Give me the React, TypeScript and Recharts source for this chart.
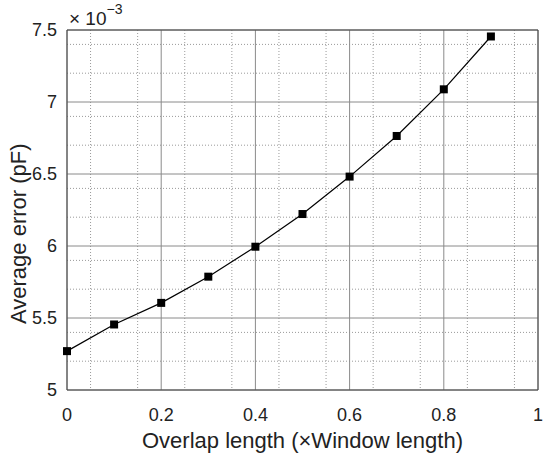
import React from 'react';
import { LineChart, Line, XAxis, YAxis, CartesianGrid, ReferenceLine } from 'recharts';

const overlap = [0, 0.1, 0.2, 0.3, 0.4, 0.5, 0.6, 0.7, 0.8, 0.9];
const avgError = [5.27, 5.455, 5.605, 5.787, 5.995, 6.222, 6.482, 6.764, 7.088, 7.455];
const xTicks = [0, 0.2, 0.4, 0.6, 0.8, 1];
const yTicks = [5, 5.5, 6, 6.5, 7, 7.5];
const xMinor = [0.05, 0.1, 0.15, 0.25, 0.3, 0.35, 0.45, 0.5, 0.55, 0.65, 0.7, 0.75, 0.85, 0.9, 0.95];
const yMinor = [5.1, 5.2, 5.3, 5.4, 5.6, 5.7, 5.8, 5.9, 6.1, 6.2, 6.3, 6.4, 6.6, 6.7, 6.8, 6.9, 7.1, 7.2, 7.3, 7.4];

const data = overlap.map((x, i) => ({ x, y: avgError[i] }));

const FONT = 'Liberation Sans, Arial, Helvetica, sans-serif';

const Square = (props: any) => {
  const { cx, cy, index } = props;
  if (cx == null || cy == null) return <g key={index} />;
  return <rect key={index} x={cx - 4} y={cy - 4} width={8} height={8} fill="#000" />;
};

export default function App() {
  return (
    <div style={{ position: 'absolute', left: 0, top: 0, width: 550, height: 459, background: '#fff' }}>
      <LineChart width={550} height={459} data={data} margin={{ top: 30, right: 12, bottom: 39, left: 17 }}>
        <CartesianGrid
          stroke="#9a9a9a"
          strokeDasharray="1 2"
          horizontalValues={yMinor}
          verticalValues={xMinor}
        />
        <CartesianGrid stroke="#8a8a8a" horizontalValues={yTicks} verticalValues={xTicks} />
        <XAxis
          dataKey="x"
          type="number"
          domain={[0, 1]}
          ticks={xTicks}
          height={30}
          axisLine={{ stroke: '#444' }}
          tickLine={false}
          tick={{ fill: '#222', fontSize: 18, fontFamily: FONT, dy: 10 }}
          tickFormatter={(v: number) => String(v)}
          label={{ value: 'Overlap length (\u00D7Window length)', position: 'insideBottom', offset: -28, fill: '#222', fontSize: 22, fontFamily: FONT }}
        />
        <YAxis
          type="number"
          domain={[5, 7.5]}
          ticks={yTicks}
          width={50}
          axisLine={{ stroke: '#444' }}
          tickLine={false}
          tick={{ fill: '#222', fontSize: 18, fontFamily: FONT, dx: -2 }}
          tickFormatter={(v: number) => String(v)}
          label={{ value: 'Average error (pF)', angle: -90, position: 'insideLeft', dx: -4, dy: 114, fill: '#222', fontSize: 22, fontFamily: FONT }}
        />
        <ReferenceLine y={7.5} stroke="#444" />
        <ReferenceLine x={1} stroke="#444" />
        <Line
          dataKey="y"
          stroke="#000"
          strokeWidth={1.2}
          dot={Square}
          activeDot={false}
          isAnimationActive={false}
        />
        <text x={69} y={25} fontFamily={FONT} fontSize={19} fill="#222">
          {'\u00D7 10'}
          <tspan dy={-11} fontSize={14}>{'\u22123'}</tspan>
        </text>
      </LineChart>
    </div>
  );
}
